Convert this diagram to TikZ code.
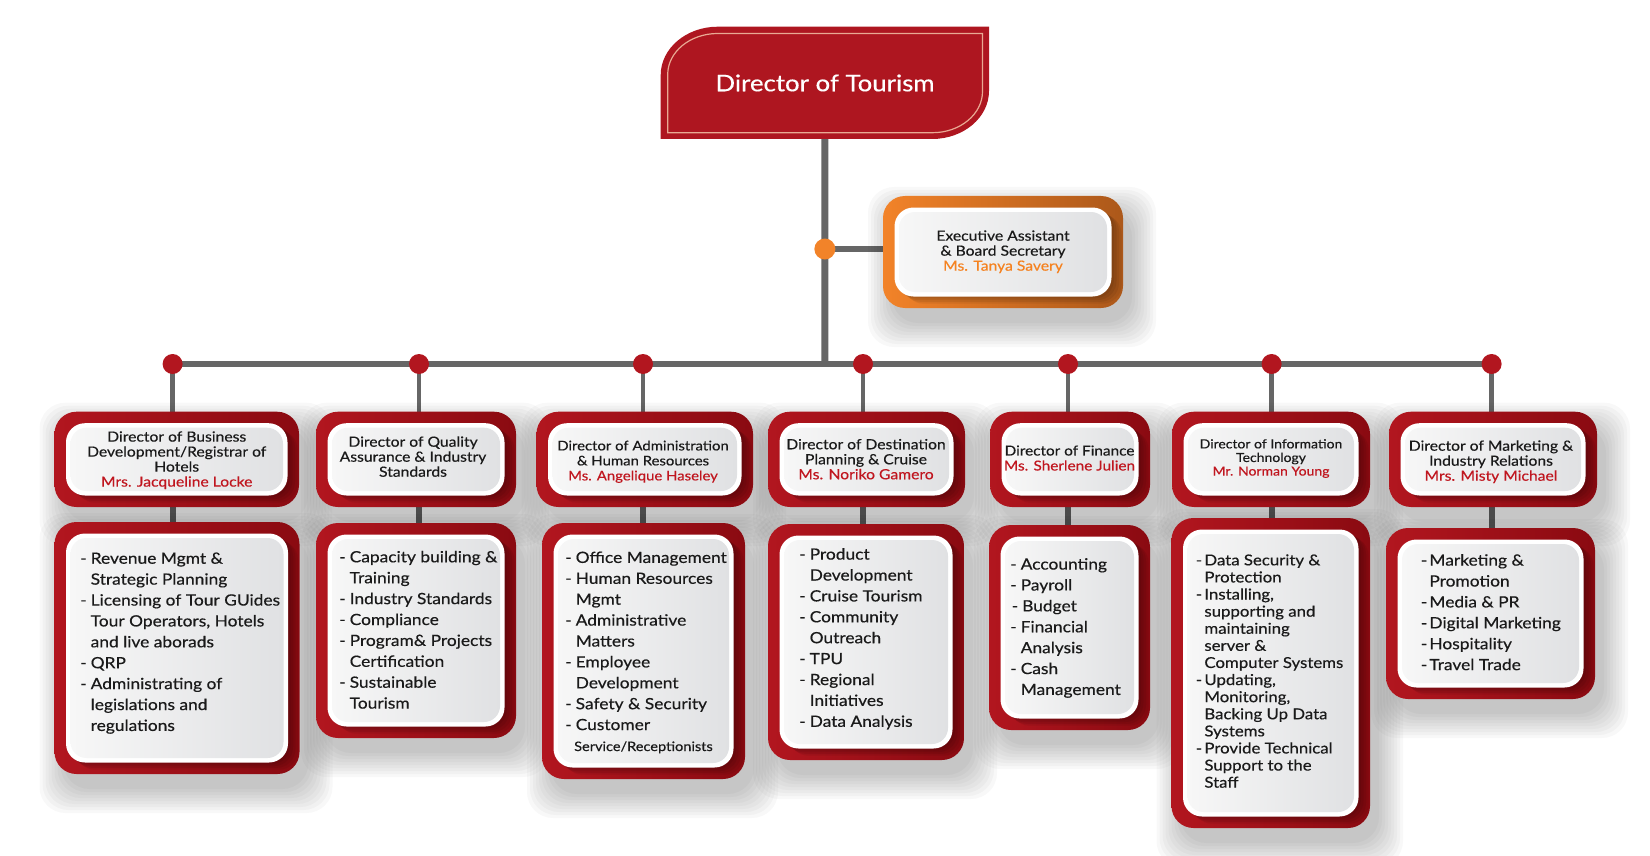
\documentclass[tikz,border=0pt]{standalone}
\usepackage{fontspec}
\setmainfont{Lato}[FakeStretch=1.12,FakeBold=0.4]
\usetikzlibrary{fit}
\definecolor{rb}{HTML}{B2161F}
\definecolor{rd}{HTML}{8A0A11}
\definecolor{topred}{HTML}{AE1620}
\definecolor{lineg}{HTML}{666666}
\definecolor{org}{HTML}{F28329}
\definecolor{orgd}{HTML}{AC581A}
\definecolor{namered}{HTML}{C0161F}
\definecolor{nameorg}{HTML}{F58220}
\definecolor{panelL}{HTML}{F7F7F7}
\definecolor{panelR}{HTML}{E0E1E3}
\definecolor{innerline}{HTML}{E9A993}
\definecolor{txt}{HTML}{1A1A1A}
\pgfdeclarelayer{bg}
\pgfsetlayers{bg,main}
\newcommand{\bl}{\makebox[10.5pt][l]{-}}
\newcommand{\hi}{\hspace*{10.5pt}}
\newcommand{\bls}{\makebox[8.5pt][l]{-}}
\newcommand{\his}{\hspace*{8.5pt}}
\newcommand{\SoftShadow}[4]{%
  \foreach \k in {0,...,8}{%
    \fill[black, fill opacity=0.026, rounded corners=26pt]
      (#1+9-3*\k, #2+15-3*\k) rectangle (#3+9+3*\k, #4+15+3*\k);
  }%
}
\newcommand{\OrgBox}[7]{%
  \shade[left color=#6, right color=#7, rounded corners=22pt] (#2,#3) rectangle (#4,#5);
  \begin{scope}
    \clip[rounded corners=22pt] (#2,#3) rectangle (#4,#5);
    \foreach \k in {1,...,4}{%
      \fill[black, fill opacity=0.065, rounded corners=19pt]
        (#2+11.5+2.5*\k, #3+11.5+1.8*\k) rectangle (#4-11.5+2.5*\k, #5-11.5+1.8*\k);
    }%
  \end{scope}
  \fill[white, rounded corners=19pt] (#2+11.5,#3+11.5) rectangle (#4-11.5,#5-11.5);
  \shade[left color=panelL, right color=panelR, rounded corners=16pt] (#2+16,#3+16) rectangle (#4-16,#5-16);
  \node[fit={(#2,#3) (#4,#5)}, inner sep=0pt] (#1) {};
}
\begin{document}
\begin{tikzpicture}[x=1pt,y=-1pt,
  dot/.style={circle, fill=rb, minimum size=20pt, inner sep=0pt},
  odot/.style={circle, fill=org, minimum size=21pt, inner sep=0pt},
  trunk/.style={draw=lineg, line width=7pt},
  busline/.style={draw=lineg, line width=6pt},
  drop/.style={draw=lineg, line width=4.5pt},
  link/.style={draw=lineg, line width=6pt},
  hdr/.style={font=\fontsize{14}{15}\selectfont, align=center, anchor=north, inner sep=0pt, text=txt},
  hdrs/.style={font=\fontsize{12.5}{13.6}\selectfont, align=center, anchor=north, inner sep=0pt, text=txt},
  body/.style={font=\fontsize{15.5}{20.9}\selectfont, align=left, anchor=north west, inner sep=0pt, text=txt},
  bodys/.style={font=\fontsize{15}{17.1}\selectfont, align=left, anchor=north west, inner sep=0pt, text=txt}]
\useasboundingbox (0,0) rectangle (1650,856);

% top box
\fill[topred] (660.7,139) -- (660.7,75) .. controls (660.7,48.5) and (686.2,26.7) .. (717.7,26.7)
  -- (989,26.7) -- (989,91) .. controls (989,117.5) and (963.5,139) .. (932,139) -- cycle;
\draw[innerline, line width=1.2pt] (667.7,132.7) -- (667.7,74.5) .. controls (667.7,51.9) and (690.1,33.5) .. (717.7,33.5)
  -- (982.5,33.5) -- (982.5,91.5) .. controls (982.5,114.1) and (960.1,132.7) .. (932.5,132.7) -- cycle;
\node[fit={(660.7,26.7) (989,139)}, inner sep=0pt] (top) {};
\node[font=\fontsize{23}{26}\selectfont, text=white] (title) at (825,83) {Director of Tourism};

% shadows
\SoftShadow{883}{196}{1123}{308}
\SoftShadow{54.5}{411.7}{299}{507}
\SoftShadow{316}{411.7}{516}{507}
\SoftShadow{536.5}{411.7}{753}{507}
\SoftShadow{768}{411.7}{965}{507}
\SoftShadow{990}{411.7}{1150}{507}
\SoftShadow{1172}{411.7}{1370}{507}
\SoftShadow{1389}{411.7}{1597}{507}
\SoftShadow{54.5}{522}{299.5}{774}
\SoftShadow{316}{523}{516}{738}
\SoftShadow{542}{523}{745}{779}
\SoftShadow{768}{524}{964}{760}
\SoftShadow{989}{525}{1150}{730}
\SoftShadow{1171.5}{518}{1370}{828}
\SoftShadow{1386}{528}{1595}{699}

% boxes
\OrgBox{exec}{883}{196}{1123}{308}{org}{orgd}
\OrgBox{h1}{54.5}{411.7}{299}{507}{rb}{rd}
\OrgBox{h2}{316}{411.7}{516}{507}{rb}{rd}
\OrgBox{h3}{536.5}{411.7}{753}{507}{rb}{rd}
\OrgBox{h4}{768}{411.7}{965}{507}{rb}{rd}
\OrgBox{h5}{990}{411.7}{1150}{507}{rb}{rd}
\OrgBox{h6}{1172}{411.7}{1370}{507}{rb}{rd}
\OrgBox{h7}{1389}{411.7}{1597}{507}{rb}{rd}
\OrgBox{b1}{54.5}{522}{299.5}{774}{rb}{rd}
\OrgBox{b2}{316}{523}{516}{738}{rb}{rd}
\OrgBox{b3}{542}{523}{745}{779}{rb}{rd}
\OrgBox{b4}{768}{524}{964}{760}{rb}{rd}
\OrgBox{b5}{989}{525}{1150}{730}{rb}{rd}
\OrgBox{b6}{1171.5}{518}{1370}{828}{rb}{rd}
\OrgBox{b7}{1386}{528}{1595}{699}{rb}{rd}

% junctions
\node[odot] (od) at (824.85,249) {};
\coordinate (tj) at (824.85,364);
\node[dot] (d1) at (172.6,364) {};
\node[dot] (d2) at (419,364) {};
\node[dot] (d3) at (643,364) {};
\node[dot] (d4) at (863,364) {};
\node[dot] (d5) at (1068,364) {};
\node[dot] (d6) at (1271.6,364) {};
\node[dot] (d7) at (1491.6,364) {};

% texts
\node[hdr] (et) at (1003,230.2) {Executive Assistant\\\& Board Secretary\\\textcolor{nameorg}{Ms. Tanya Savery}};
\node[hdr] (ht1) at (176.7,431.2) {Director of Business\\Development/Registrar of\\Hotels\\\textcolor{namered}{Mrs. Jacqueline Locke}};
\node[hdr] (ht2) at (413,436.2) {Director of Quality\\Assurance \& Industry\\Standards};
\node[hdr, font=\fontsize{13.3}{15}\selectfont] (ht3) at (643,440.4) {Director of Administration\\\& Human Resources\\\textcolor{namered}{Ms. Angelique Haseley}};
\node[hdr] (ht4) at (866,438.8) {Director of Destination\\Planning \& Cruise\\\textcolor{namered}{Ms. Noriko Gamero}};
\node[hdr, font=\fontsize{13.7}{15}\selectfont] (ht5) at (1069.5,445.3) {Director of Finance\\\textcolor{namered}{Ms. Sherlene Julien}};
\node[hdrs] (ht6) at (1271,439) {Director of Information\\Technology\\\textcolor{namered}{Mr. Norman Young}};
\node[hdr] (ht7) at (1491,440.2) {Director of Marketing \&\\Industry Relations\\\textcolor{namered}{Mrs. Misty Michael}};

\node[body] (bt1) at (80,552.3) {\bl Revenue Mgmt \&\\\hi Strategic Planning\\\bl Licensing of Tour GUides\\\hi Tour Operators, Hotels\\\hi and live aborads\\\bl QRP\\\bl Administrating of\\\hi legislations and\\\hi regulations};
\node[body] (bt2) at (339,550.7) {\bl Capacity building \&\\\hi Training\\\bl Industry Standards\\\bl Compliance\\\bl Program\& Projects\\\hi Certification\\\bl Sustainable\\\hi Tourism};
\node[body] (bt3) at (565,551.3) {\bl Office Management\\\bl Human Resources\\\hi Mgmt\\\bl Administrative\\\hi Matters\\\bl Employee\\\hi Development\\\bl Safety \& Security\\\bl Customer\\\hspace*{9pt}{\fontsize{13}{20.9}\selectfont Service/Receptionists}};
\node[body] (bt4) at (799,548) {\bl Product\\\hi Development\\\bl Cruise Tourism\\\bl Community\\\hi Outreach\\\bl TPU\\\bl Regional\\\hi Initiatives\\\bl Data Analysis};
\node[body] (bt5) at (1010,558) {\bl Accounting\\\bl Payroll\\\hspace*{1.5pt}\bl Budget\\\bl Financial\\\hi Analysis\\\bl Cash\\\hi Management};
\node[bodys] (bt6) at (1195.7,554.2) {\bls Data Security \&\\\his Protection\\\bls Installing,\\\his supporting and\\\his maintaining\\\his server \&\\\his Computer Systems\\\bls Updating,\\\his Monitoring,\\\his Backing Up Data\\\his Systems\\\bls Provide Technical\\\his Support to the\\\his Staff};
\node[body] (bt7) at (1420.7,554) {\bls Marketing \&\\\his Promotion\\\bls Media \& PR\\\bls Digital Marketing\\\bls Hospitality\\\bls Travel Trade};

% connectors
\begin{pgfonlayer}{bg}
\draw[trunk] (top.south) -- (tj);
\draw[link] (od.center) -- (od -| exec.west);
\draw[busline] (d1.center) -- (d7.center);
\foreach \i in {1,...,7}{
  \draw[drop] (d\i.center) -- (d\i |- h\i.north);
  \draw[link] (d\i |- h\i.south) -- (d\i |- b\i.north);
}
\end{pgfonlayer}
\end{tikzpicture}
\end{document}
